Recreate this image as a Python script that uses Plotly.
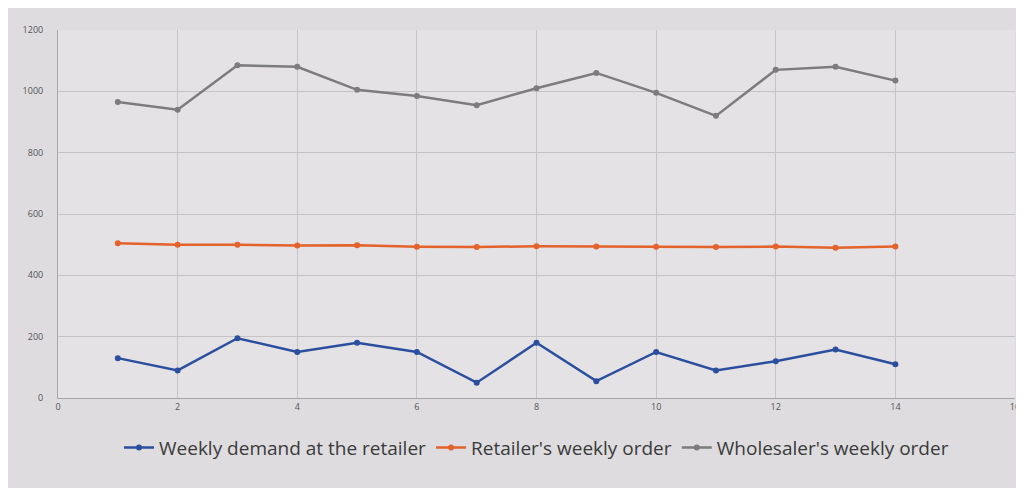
import plotly.graph_objects as go

weeks = list(range(1, 15))
demand = [130, 90, 195, 150, 180, 150, 50, 180, 55, 150, 90, 120, 158, 110]
retailer = [505, 500, 500, 497, 498, 493, 492, 495, 494, 493, 492, 494, 490, 494]
wholesaler = [965, 940, 1085, 1080, 1005, 985, 955, 1010, 1060, 995, 920, 1070, 1080, 1035]

series_names = ["Weekly demand at the retailer", "Retailer's weekly order", "Wholesaler's weekly order"]
colors = ["#2b4f9e", "#e4622c", "#7c7c7c"]

fig = go.Figure()
for name, vals, c in zip(series_names, [demand, retailer, wholesaler], colors):
    fig.add_trace(go.Scatter(x=weeks, y=vals, name=name, mode="lines+markers",
                             line=dict(color=c, width=2.5),
                             marker=dict(color=c, size=6)))

fig.update_layout(
    width=1024, height=488,
    paper_bgcolor="#dedcdf", plot_bgcolor="#e4e2e5",
    margin=dict(l=50, r=14, t=22, b=98),
    font=dict(family="Open Sans, sans-serif", color="#444444"),
    showlegend=True,
    legend=dict(orientation="h", x=0.5, xanchor="center", y=-0.135, yanchor="middle",
                font=dict(size=19, color="#3a3a3a"), bgcolor="rgba(0,0,0,0)",
                itemwidth=30),
)
fig.update_xaxes(range=[0, 16], tick0=0, dtick=2, showgrid=True, gridcolor="#c4c4c6",
                 zeroline=False, showline=True, linecolor="#a8a8a8",
                 tickfont=dict(size=9, color="#555555"))
fig.update_yaxes(range=[0, 1200], tick0=0, dtick=200, showgrid=True, gridcolor="#c4c4c6",
                 zeroline=False, showline=True, linecolor="#a8a8a8",
                 tickfont=dict(size=9, color="#555555"), ticklabelstandoff=12)

fig.write_html("out.html")
